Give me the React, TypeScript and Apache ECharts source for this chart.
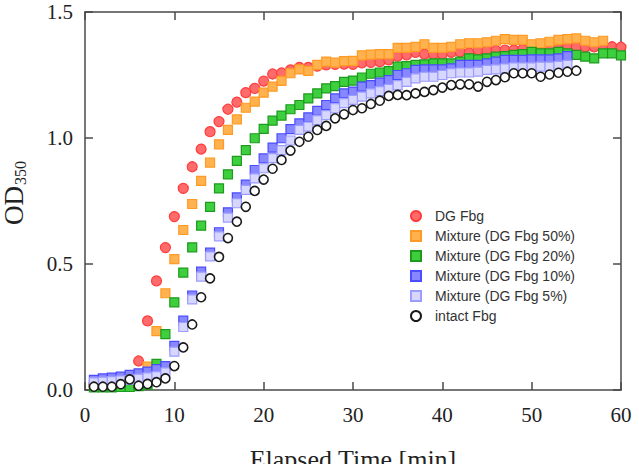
import React, { useEffect, useRef } from "react";
import * as echarts from "echarts";

// Elapsed time [min]
const minutes = [
  1, 2, 3, 4, 5, 6, 7, 8, 9, 10, 11, 12, 13, 14, 15, 16, 17, 18, 19, 20,
  21, 22, 23, 24, 25, 26, 27, 28, 29, 30, 31, 32, 33, 34, 35, 36, 37, 38, 39, 40,
  41, 42, 43, 44, 45, 46, 47, 48, 49, 50, 51, 52, 53, 54, 55, 56, 57, 58, 59, 60,
];

const dgFbg = [
  0.02, 0.02, 0.022, 0.025, 0.03, 0.115, 0.274, 0.433, 0.565, 0.688,
  0.8, 0.886, 0.956, 1.025, 1.065, 1.114, 1.142, 1.18, 1.197, 1.226,
  1.254, 1.258, 1.27, 1.28, 1.28, 1.285, 1.29, 1.292, 1.293, 1.292,
  1.298, 1.3, 1.303, 1.31, 1.325, 1.33, 1.34, 1.333, 1.333, 1.332,
  1.34, 1.342, 1.338, 1.349, 1.347, 1.347, 1.349, 1.349, 1.352, 1.356,
  1.36, 1.36, 1.362, 1.362, 1.362, 1.362, 1.362, 1.365, 1.362, 1.36,
];

const mix50 = [
  0.02, 0.02, 0.022, 0.024, 0.026, 0.035, 0.093, 0.234, 0.384, 0.519,
  0.635, 0.738, 0.83, 0.902, 0.975, 1.032, 1.074, 1.12, 1.144, 1.18,
  1.204, 1.227, 1.257, 1.272, 1.266, 1.29, 1.303, 1.299, 1.305, 1.306,
  1.328, 1.331, 1.333, 1.333, 1.358, 1.358, 1.362, 1.372, 1.358, 1.358,
  1.362, 1.372, 1.376, 1.376, 1.38, 1.386, 1.392, 1.389, 1.389, 1.372,
  1.376, 1.382, 1.389, 1.392, 1.395, 1.386, 1.38, 1.386,
];

const mix20 = [
  0.01, 0.01, 0.01, 0.012, 0.012, 0.015, 0.02, 0.104, 0.222, 0.348,
  0.466, 0.566, 0.652, 0.727, 0.8, 0.856, 0.909, 0.952, 0.999, 1.036,
  1.069, 1.089, 1.114, 1.131, 1.157, 1.177, 1.197, 1.206, 1.223, 1.228,
  1.24, 1.255, 1.26, 1.265, 1.283, 1.285, 1.29, 1.292, 1.296, 1.296,
  1.296, 1.303, 1.316, 1.312, 1.316, 1.323, 1.325, 1.33, 1.333, 1.342,
  1.336, 1.336, 1.342, 1.336, 1.33, 1.323, 1.316, 1.336, 1.336, 1.328,
];

const mix10 = [
  0.04, 0.046, 0.049, 0.053, 0.06, 0.066, 0.073, 0.083, 0.095, 0.175,
  0.275, 0.375, 0.47, 0.545, 0.626, 0.705, 0.764, 0.815, 0.873, 0.919,
  0.962, 0.999, 1.035, 1.058, 1.082, 1.108, 1.131, 1.157, 1.177, 1.184,
  1.204, 1.21, 1.22, 1.23, 1.25, 1.257, 1.27, 1.272, 1.272, 1.272,
  1.276, 1.29, 1.29, 1.29, 1.296, 1.303, 1.31, 1.31, 1.31, 1.312,
  1.312, 1.312, 1.316, 1.325,
];

const mix5 = [
  0.03, 0.033, 0.035, 0.038, 0.04, 0.045, 0.05, 0.055, 0.07, 0.152,
  0.25, 0.36, 0.45, 0.53, 0.61, 0.684, 0.741, 0.794, 0.84, 0.88,
  0.92, 0.952, 0.99, 1.032, 1.045, 1.071, 1.091, 1.118, 1.138, 1.151,
  1.164, 1.177, 1.186, 1.195, 1.21, 1.223, 1.237, 1.243, 1.243, 1.25,
  1.257, 1.26, 1.26, 1.263, 1.27, 1.272, 1.276, 1.28, 1.28, 1.28,
  1.283, 1.283, 1.286, 1.29,
];

const intactFbg = [
  0.013, 0.013, 0.013, 0.023, 0.042, 0.017, 0.024, 0.031, 0.046, 0.095,
  0.169, 0.26, 0.368, 0.443, 0.528, 0.603, 0.668, 0.727, 0.79, 0.835,
  0.878, 0.913, 0.95, 0.985, 1.005, 1.032, 1.048, 1.078, 1.094, 1.111,
  1.118, 1.135, 1.148, 1.167, 1.171, 1.17, 1.177, 1.183, 1.19, 1.2,
  1.21, 1.213, 1.213, 1.204, 1.223, 1.23, 1.241, 1.257, 1.257, 1.257,
  1.243, 1.252, 1.259, 1.263, 1.267,
];

const seriesNames = [
  "DG Fbg",
  "Mixture (DG Fbg 50%)",
  "Mixture (DG Fbg 20%)",
  "Mixture (DG Fbg 10%)",
  "Mixture (DG Fbg 5%)",
  "intact Fbg",
];

const xTicks = [0, 10, 20, 30, 40, 50, 60];
const yTicks = [0, 0.5, 1.0, 1.5];

const pair = (vals: number[]) => vals.map((v, i) => [minutes[i], v]);

export default function App() {
  const ref = useRef<HTMLDivElement>(null);

  useEffect(() => {
    document.body.style.margin = "0";
    if (!ref.current) return;
    const chart = echarts.init(ref.current, undefined, { renderer: "svg" });

    const serif = "Liberation Serif, Times New Roman, serif";
    const axisColor = "#4a4a4a";

    const baseX = {
      type: "value" as const,
      min: xTicks[0],
      max: xTicks[xTicks.length - 1],
      interval: 10,
      splitLine: { show: false },
      axisLine: { show: true, onZero: false, lineStyle: { color: axisColor, width: 1.5 } },
      axisTick: { show: true, inside: true, length: 8, lineStyle: { color: axisColor, width: 1.5 } },
    };
    const baseY = {
      type: "value" as const,
      min: yTicks[0],
      max: yTicks[yTicks.length - 1],
      interval: 0.5,
      splitLine: { show: false },
      axisLine: { show: true, onZero: false, lineStyle: { color: axisColor, width: 1.5 } },
      axisTick: { show: true, inside: true, length: 8, lineStyle: { color: axisColor, width: 1.5 } },
    };

    const styles = [
      { symbol: "circle", size: 10, color: "#ff6b6b", border: "#ff3c3c", bw: 1.2 },
      { symbol: "rect", size: 9, color: "#ffb24d", border: "#ff9a26", bw: 1.2 },
      { symbol: "rect", size: 9, color: "#3ecf3e", border: "#1c9b1c", bw: 1.2 },
      { symbol: "rect", size: 9, color: "#8787ff", border: "#4b4bff", bw: 1.2 },
      { symbol: "rect", size: 9, color: "#d6d6ff", border: "#9c9cff", bw: 1.2 },
      { symbol: "circle", size: 9, color: "#ffffff", border: "#1a1a1a", bw: 1.6 },
    ];
    const dataSets = [dgFbg, mix50, mix20, mix10, mix5, intactFbg];

    chart.setOption({
      animation: false,
      grid: { left: 85, right: 18, top: 12, bottom: 74, outerBoundsMode: "none" },
      xAxis: [
        {
          ...baseX,
          position: "bottom",
          name: "Elapsed Time [min]",
          nameLocation: "middle",
          nameGap: 56,
          nameMoveOverlap: false,
          nameTextStyle: { fontFamily: serif, fontSize: 26, color: "#222" },
          axisLabel: { fontFamily: serif, fontSize: 21, color: "#222", margin: 14 },
        },
        { ...baseX, position: "top", axisLabel: { show: false } },
      ],
      yAxis: [
        {
          ...baseY,
          position: "left",
          name: "{a|OD}{b|350}",
          nameLocation: "middle",
          nameRotate: 90,
          nameGap: 57,
          nameMoveOverlap: false,
          nameTextStyle: {
            rich: {
              a: { fontFamily: serif, fontSize: 27, color: "#222", padding: [0, 0, 0, 16] },
              b: { fontFamily: serif, fontSize: 16, color: "#222", padding: [12, 0, 0, 1] },
            },
          },
          axisLabel: {
            fontFamily: serif,
            fontSize: 21,
            color: "#222",
            margin: 12,
            formatter: (v: number) => v.toFixed(1),
          },
        },
        { ...baseY, position: "right", axisLabel: { show: false } },
      ],
      legend: {
        orient: "vertical",
        left: 410,
        top: 209,
        padding: 0,
        itemWidth: 10,
        itemHeight: 10,
        itemGap: 6,
        data: seriesNames,
        textStyle: {
          fontFamily: "Liberation Sans, Arial, sans-serif",
          fontSize: 14,
          color: "#333",
          padding: [0, 0, 0, 9],
        },
      },
      series: dataSets.map((vals, i) => ({
        type: "scatter",
        name: seriesNames[i],
        xAxisIndex: 0,
        yAxisIndex: 0,
        symbol: styles[i].symbol,
        symbolSize: styles[i].size,
        data: pair(vals),
        itemStyle: {
          color: styles[i].color,
          borderColor: styles[i].border,
          borderWidth: styles[i].bw,
          opacity: 1,
        },
        emphasis: { disabled: true },
      })),
    });

    return () => chart.dispose();
  }, []);

  return (
    <div
      ref={ref}
      style={{ position: "absolute", left: 0, top: 0, width: 639, height: 464 }}
    />
  );
}
